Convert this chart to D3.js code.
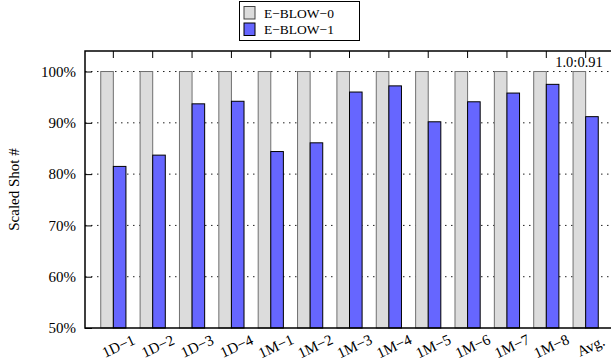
<!DOCTYPE html>
<html>
<head>
<meta charset="utf-8">
<script src="https://cdn.jsdelivr.net/npm/d3@7"></script>
<style>
  body { margin: 0; background: #fff; }
  text { font-family: "Liberation Serif", "Times New Roman", "DejaVu Serif", serif; fill: #000; }
</style>
</head>
<body>
<svg id="chart" width="611" height="362"></svg>
<script>
// Categories and values
const categories = ["1D\u22121", "1D\u22122", "1D\u22123", "1D\u22124", "1M\u22121", "1M\u22122",
    "1M\u22123", "1M\u22124", "1M\u22125", "1M\u22126", "1M\u22127", "1M\u22128", "Avg."];
const eblow0 = [100, 100, 100, 100, 100, 100, 100, 100, 100, 100, 100, 100, 100];
const eblow1 = [81.5, 83.7, 93.7, 94.2, 84.4, 86.1, 96.0, 97.2, 90.2, 94.1, 95.8, 97.5, 91.2];
const series_names = ["E\u2212BLOW\u22120", "E\u2212BLOW\u22121"];
const y_ticks = [50, 60, 70, 80, 90, 100];
const ratio_label = "1.0:0.91";

// Colors
const gray_fill = "#dcdcdc";
const gray_stroke = "#707070";
const blue_fill = "#6666ff";

const margin = { left: 85, right: 614, top: 51, bottom: 328 };

let svg = d3.select("#chart");

let x = d3.scaleBand()
    .domain(categories)
    .range([margin.left, margin.right])
    .paddingInner(0)
    .paddingOuter(0.22);

let y = d3.scaleLinear()
    .domain([50, 104])
    .range([margin.bottom, margin.top]);

const bar_w = x.step() * 0.32;
const center = (c) => x(c) + x.bandwidth() / 2;

// Dotted grid
svg.append("g")
    .selectAll("line")
    .data(y_ticks.filter(t => t > 50))
    .enter()
    .append("line")
    .attr("x1", margin.left)
    .attr("x2", margin.right)
    .attr("y1", d => y(d))
    .attr("y2", d => y(d))
    .attr("stroke", "#222")
    .attr("stroke-width", 1)
    .attr("stroke-dasharray", "1.5,4.5");

// Ratio label in the corner
svg.append("text")
    .attr("x", 579)
    .attr("y", 67)
    .attr("text-anchor", "middle")
    .attr("font-size", "14.5px")
    .text(ratio_label);

// Bars
svg.append("g")
    .selectAll("rect")
    .data(categories)
    .enter()
    .append("rect")
    .attr("x", (c) => center(c) - bar_w)
    .attr("y", (c, i) => y(eblow0[i]))
    .attr("width", bar_w)
    .attr("height", (c, i) => y(50) - y(eblow0[i]))
    .attr("fill", gray_fill)
    .attr("stroke", gray_stroke)
    .attr("stroke-width", 1);

svg.append("g")
    .selectAll("rect")
    .data(categories)
    .enter()
    .append("rect")
    .attr("x", (c) => center(c))
    .attr("y", (c, i) => y(eblow1[i]))
    .attr("width", bar_w)
    .attr("height", (c, i) => y(50) - y(eblow1[i]))
    .attr("fill", blue_fill)
    .attr("stroke", "#000")
    .attr("stroke-width", 1);

// Y axis (ticks inside)
let yAxis = d3.axisLeft(y)
    .tickValues(y_ticks)
    .tickSizeInner(-7)
    .tickSizeOuter(0)
    .tickPadding(9)
    .tickFormat(d => d + "%");
let gy = svg.append("g")
    .attr("transform", `translate(${margin.left},0)`)
    .call(yAxis);
gy.select(".domain").remove();
gy.selectAll("line").attr("stroke", "#000");
gy.selectAll("text")
    .attr("font-size", "15px");

// Top ticks at group centers
svg.append("g")
    .selectAll("line")
    .data(categories)
    .enter()
    .append("line")
    .attr("x1", center)
    .attr("x2", center)
    .attr("y1", margin.top)
    .attr("y2", margin.top + 7)
    .attr("stroke", "#000");

// Plot border
svg.append("path")
    .attr("d", `M${margin.right},${margin.top}H${margin.left}V${margin.bottom}H${margin.right}`)
    .attr("fill", "none")
    .attr("stroke", "#000")
    .attr("stroke-width", 1.5);

// Rotated x labels
svg.append("g")
    .selectAll("text")
    .data(categories)
    .enter()
    .append("text")
    .attr("transform", (c) => `translate(${center(c) + 5},${346}) rotate(-25)`)
    .attr("text-anchor", "middle")
    .attr("dy", "0.35em")
    .attr("font-size", "15px")
    .text(c => c);

// Y axis title
svg.append("text")
    .attr("transform", `translate(19,${(margin.top + margin.bottom) / 2}) rotate(-90)`)
    .attr("text-anchor", "middle")
    .attr("font-size", "15px")
    .text("Scaled Shot #");

// Legend
let legend = svg.append("g");
legend.append("rect")
    .attr("x", 239.5).attr("y", 1.5)
    .attr("width", 120).attr("height", 39)
    .attr("fill", "#fff").attr("stroke", "#000").attr("stroke-width", 1);
const legend_fills = [gray_fill, blue_fill];
const legend_strokes = ["#444", "#000"];
legend.selectAll("g.item")
    .data(series_names)
    .enter()
    .append("g")
    .attr("class", "item")
    .attr("transform", (d, i) => `translate(0,${i * 16.5})`)
    .each(function (d, i) {
        let g = d3.select(this);
        g.append("rect")
            .attr("x", 244).attr("y", 6.5)
            .attr("width", 11).attr("height", 12.5)
            .attr("fill", legend_fills[i]).attr("stroke", legend_strokes[i]);
        g.append("text")
            .attr("x", 264).attr("y", 17.5)
            .attr("font-size", "13.5px")
            .text(d);
    });
</script>
</body>
</html>
